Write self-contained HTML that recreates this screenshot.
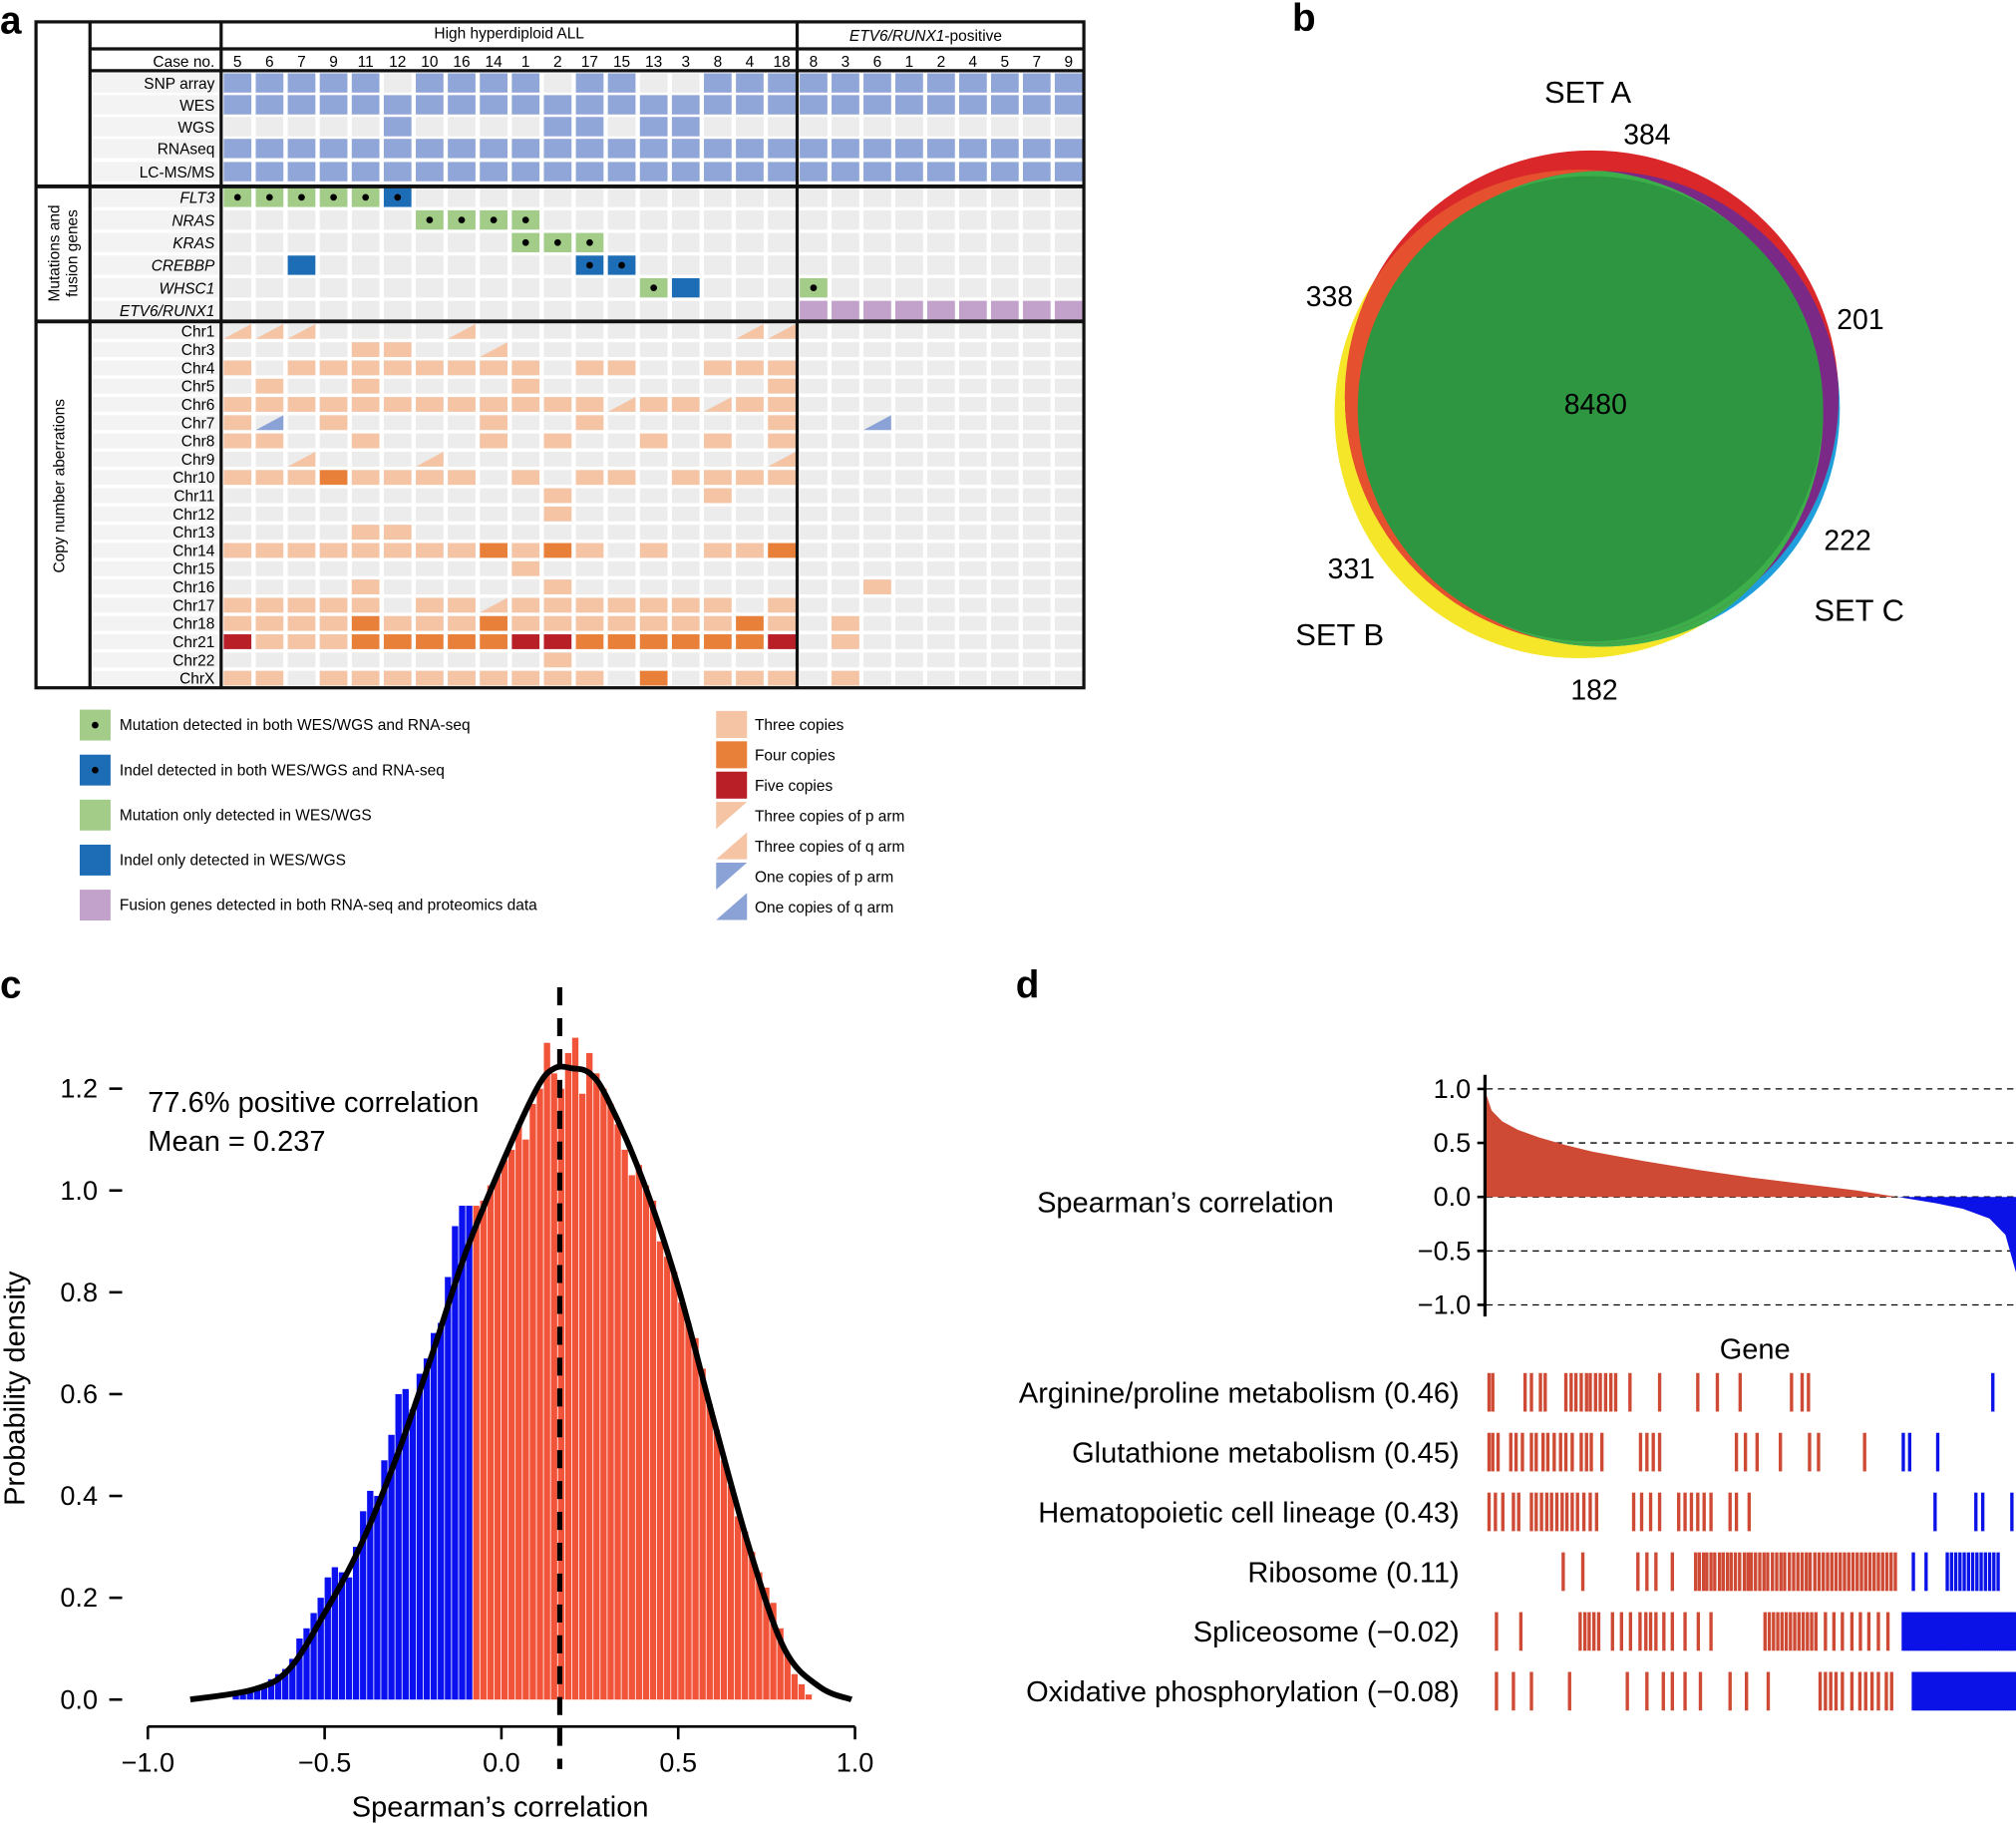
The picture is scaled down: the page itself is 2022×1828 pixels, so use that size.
<!DOCTYPE html>
<html><head><meta charset="utf-8"><style>
html,body{margin:0;padding:0;background:#fff}
svg{display:block;font-family:"Liberation Sans",sans-serif}
</style></head><body>
<svg id="fig" width="2022" height="1828" viewBox="0 0 1568 1418" preserveAspectRatio="none" xmlns="http://www.w3.org/2000/svg">
<g id="pa"></g>
<g id="pb"></g>
<g id="pc"></g>
<g id="pd"></g>
</svg>
<script>
// ---------- Panel A data ----------
const hhCases=[5,6,7,9,11,12,10,16,14,1,2,17,15,13,3,8,4,18];
const etvCases=[8,3,6,1,2,4,5,7,9];
const assayNames=['SNP array','WES','WGS','RNAseq','LC-MS/MS'];
const assayHH=['11111.1111.11..111','111111111111111111','.....1....11.11...','111111111111111111','111111111111111111'];
const assayETV=['111111111','111111111','.........','111111111','111111111'];
const mutGenes=['FLT3','NRAS','KRAS','CREBBP','WHSC1','ETV6/RUNX1'];
const mutHH=['gggggb............','......gggg........','.........ggg......','..B........bb.....','.............gB...','..................'];
const mutETV=['.........','.........','.........','.........','g........','uuuuuuuuu'];
const chrNames=['Chr1','Chr3','Chr4','Chr5','Chr6','Chr7','Chr8','Chr9','Chr10','Chr11','Chr12','Chr13','Chr14','Chr15','Chr16','Chr17','Chr18','Chr21','Chr22','ChrX'];
const cnHH=['ppp....q........pp','....tt..q.........','t.tttttttt.tt..ttt','.t..t....t.......t','ttttttttttttqttqtt','to.t....t..t.....t','tt..t...t.t..t.t.t','..q...q..........q','tttftttt.t.tt.tttt','..........t....t..','..........t.......','....tt............','ttttttttftft.t.ttf','.........t........','....t.....t.......','ttttt.ttqttttttt.t','ttttftttftttttttft','vtttfffffvvffffffv','..........t.......','tt.ttttttttt.f.ttt'];
const cnETV=['.........','.........','.........','.........','.........','..n......','.........','.........','.........','.........','.........','.........','.........','.........','..t......','.........','.t.......','.t.......','.........','.t.......'];

// ---------- Panel B data ----------
const vennLabels=[['SET A',1235,80,24],['SET B',1042,502,24],['SET C',1446,483,24]];
const vennCounts=[['384',1281,112],['338',1034,238],['201',1447,256],['8480',1241,322],['222',1437,428],['331',1051,450],['182',1240,544]];

// ---------- Panel C data ----------
const histStart=-0.76;
const histBinWidth=0.02;
const histValues=[0.01,0.01,0.02,0.02,0.03,0.04,0.05,0.06,0.08,0.12,0.14,0.17,0.2,0.24,0.26,0.25,0.24,0.3,0.37,0.41,0.4,0.47,0.52,0.6,0.61,0.57,0.64,0.67,0.72,0.74,0.83,0.93,0.97,0.97,
0.97,0.98,1.01,1.03,1.06,1.08,1.13,1.1,1.17,1.2,1.29,1.23,1.2,1.27,1.3,1.19,1.27,1.23,1.2,1.17,1.13,1.08,1.03,1.05,1.01,0.98,0.9,0.87,0.84,0.78,0.74,0.71,0.65,0.58,0.53,0.47,0.42,0.36,0.33,0.29,0.25,0.22,0.19,0.14,0.09,0.05,0.03,0.01];
const negThreshold=-0.08;
const curveX=[-0.88,-0.7,-0.6,-0.5,-0.4,-0.3,-0.2,-0.1,0,0.1,0.15,0.2,0.25,0.3,0.4,0.5,0.6,0.7,0.8,0.9,0.99];
const curveY=[0,0.02,0.06,0.17,0.3,0.47,0.67,0.88,1.05,1.2,1.24,1.24,1.23,1.18,1.02,0.81,0.55,0.3,0.1,0.025,0];
const meanLine=0.165;
const cXTicks=[-1,-0.5,0,0.5,1];
const cXTickLabels=['\u22121.0','\u22120.5','0.0','0.5','1.0'];
const cYTicks=[0,0.2,0.4,0.6,0.8,1.0,1.2];
const cYTickLabels=['0.0','0.2','0.4','0.6','0.8','1.0','1.2'];

// ---------- Panel D data ----------
const corrRank=[0,0.01,0.03,0.06,0.1,0.15,0.2,0.3,0.4,0.5,0.6,0.7,0.776,0.85,0.9,0.95,0.98,1.0];
const corrValue=[0.95,0.8,0.7,0.62,0.55,0.48,0.42,0.33,0.25,0.18,0.12,0.06,0,-0.06,-0.11,-0.2,-0.35,-0.7];
const dYTicks=[1,0.5,0,-0.5,-1];
const dYTickLabels=['1.0','0.5','0.0','\u22120.5','\u22121.0'];
const pathwayNames=['Arginine/proline metabolism (0.46)','Glutathione metabolism (0.45)','Hematopoietic cell lineage (0.43)','Ribosome (0.11)','Spliceosome (\u22120.02)','Oxidative phosphorylation (\u22120.08)'];
const pathwayRanks=[
[5,12,73,85,102,111,150,160,169,179,189,196,206,215,225,235,244,271,327,399,436,479,576,596,608,956],
[5,12,22,46,56,68,85,94,107,116,128,140,150,162,179,189,198,218,291,303,315,327,472,489,511,555,610,627,714,787,799,852],
[5,17,31,51,61,85,94,104,114,123,133,143,152,162,172,184,196,208,278,293,310,327,363,375,387,399,411,424,460,472,496,847,924,937,992],
[145,182,286,303,320,351,395,402,410,416,424,431,440,447,455,462,470,478,487,494,500,508,516,524,531,540,548,556,563,572,580,588,596,604,611,620,628,636,644,652,660,668,676,684,692,700,708,716,724,732,740,748,756,764,772,806,830,870,878,886,894,902,910,918,926,934,942,950,958,966],
[19,65,177,186,194,203,212,238,255,272,290,301,310,320,335,351,375,400,424,526,534,542,550,558,566,574,582,590,598,606,614,622,640,656,672,690,706,722,740,758,787,791,795,799,803,807,811,815,819,823,827,831,835,839,843,847,851,855,859,863,867,871,875,879,883,887,891,895,899,903,907,911,915,919,923,927,931,935,939,943,947,951,955,959,963,967,971,975,979,983,987,991,995,999],
[19,51,85,157,266,303,334,351,375,404,460,491,532,630,640,650,660,672,690,705,716,728,740,755,765,806,810,814,818,822,826,830,834,838,842,846,850,854,858,862,866,870,874,878,882,886,890,894,898,902,906,910,914,918,922,926,930,934,938,942,946,950,954,958,962,966,970,974,978,982,986,990,994,998]
];
const signFlipRank=776;

// ---------- helpers ----------
const NS='http://www.w3.org/2000/svg';
function mk(parent,tag,attrs,text){const e=document.createElementNS(NS,tag);for(const k in attrs)e.setAttribute(k,attrs[k]);if(text!==undefined)e.textContent=text;parent.appendChild(e);return e;}
const C={blue:'#90a6d8',green:'#a2cc88',dblue:'#1c6db5',purple:'#c2a2cb',three:'#f4c4a4',four:'#e8803a',five:'#b91f27',bg:'#ececec',lbg:'#f3f3f3',tri1:'#8aa2d6'};

// ---------- Panel A ----------
(function(){
const g=document.getElementById('pa');
let t=mk(g,'text',{x:0,y:26,'font-size':30,'font-weight':'bold'},'a');

const hx=i=>172+i*24.9+2, ex=i=>620+i*24.8+2, cw=21.5;
t=mk(g,'text',{x:396,y:30,'font-size':12,'text-anchor':'middle'},'High hyperdiploid ALL');

t=mk(g,'text',{x:720,y:32,'font-size':12,'text-anchor':'middle'});

mk(t,'tspan',{'font-style':'italic'},'ETV6/RUNX1');mk(t,'tspan',{},'-positive');
t=mk(g,'text',{x:167,y:52,'font-size':12,'text-anchor':'end'},'Case no.');

hhCases.forEach((c,i)=>{const e=mk(g,'text',{x:hx(i)+cw/2,y:52,'font-size':12,'text-anchor':'middle'},String(c));
});
etvCases.forEach((c,i)=>{const e=mk(g,'text',{x:ex(i)+cw/2,y:52,'font-size':12,'text-anchor':'middle'},String(c));
});
function cell(x,y,h,code){
  let el;
  if(code==='.'){el=mk(g,'rect',{x:x,y:y,width:cw,height:h,fill:C.bg});return;}
  mk(g,'rect',{x:x,y:y,width:cw,height:h,fill:C.bg});
  const fills={'1':C.blue,g:C.green,G:C.green,b:C.dblue,B:C.dblue,u:C.purple,t:C.three,f:C.four,v:C.five};
  if(fills[code]){el=mk(g,'rect',{x:x,y:y,width:cw,height:h,fill:fills[code]});}
  else if(code==='p'||code==='q'){el=mk(g,'polygon',{points:`${x},${y+h} ${x+cw},${y} ${x+cw},${y+h}`,fill:C.three});}
  else if(code==='o'||code==='n'){el=mk(g,'polygon',{points:`${x},${y+h} ${x+cw},${y} ${x+cw},${y+h}`,fill:C.tri1});}
  
  if(code==='g'||code==='b'){const d=mk(g,'circle',{cx:x+cw/2,cy:y+h/2,r:2.6,fill:'#000'});}
}
const assayY=[57,74,91,108,126];
assayNames.forEach((n,r)=>{
  mk(g,'rect',{x:72,y:assayY[r],width:98,height:15,fill:C.lbg});
  const e=mk(g,'text',{x:167,y:assayY[r]+12,'font-size':12,'text-anchor':'end'},n);
  
  for(let i=0;i<18;i++)cell(hx(i),assayY[r],15,assayHH[r][i]==='1'?'1':'.');
  for(let i=0;i<9;i++)cell(ex(i),assayY[r],15,assayETV[r][i]==='1'?'1':'.');
});
mutGenes.forEach((n,r)=>{
  const y=146+r*17.6;
  mk(g,'rect',{x:72,y:y,width:98,height:15,fill:C.lbg});
  const e=mk(g,'text',{x:167,y:y+12,'font-size':12,'text-anchor':'end','font-style':'italic'},n);
  
  for(let i=0;i<18;i++)cell(hx(i),y,15,mutHH[r][i]);
  for(let i=0;i<9;i++)cell(ex(i),y,15,mutETV[r][i]);
});
chrNames.forEach((n,r)=>{
  const y=252+r*14.2;
  mk(g,'rect',{x:72,y:y,width:98,height:11.5,fill:C.lbg});
  const e=mk(g,'text',{x:167,y:y+10,'font-size':12,'text-anchor':'end'},n);
  
  for(let i=0;i<18;i++)cell(hx(i),y,11.5,cnHH[r][i]);
  for(let i=0;i<9;i++)cell(ex(i),y,11.5,cnETV[r][i]);
});
const L=(x1,y1,x2,y2,w)=>{const l=mk(g,'line',{x1,y1,x2,y2,stroke:'#111','stroke-width':w});};
mk(g,'rect',{x:28,y:17,width:815,height:518,fill:'none',stroke:'#111','stroke-width':2.5});
L(70,17,70,535,2.5);L(172,17,172,535,2.5);L(620,17,620,535,2.5);
L(70,38,843,38,2.5);L(70,55,843,55,2.5);L(28,145,843,145,3);L(28,250,843,250,3);
let r1=mk(g,'text',{'font-size':12,'text-anchor':'middle',transform:'translate(46,197) rotate(-90)'},'Mutations and');

r1=mk(g,'text',{'font-size':12,'text-anchor':'middle',transform:'translate(60,197) rotate(-90)'},'fusion genes');

r1=mk(g,'text',{'font-size':12,'text-anchor':'middle',transform:'translate(50,378) rotate(-90)'},'Copy number aberrations');

const legL=[['g','Mutation detected in both WES/WGS and RNA-seq'],['b','Indel detected in both WES/WGS and RNA-seq'],['G','Mutation only detected in WES/WGS'],['B','Indel only detected in WES/WGS'],['u','Fusion genes detected in both RNA-seq and proteomics data']];
const fills={g:C.green,G:C.green,b:C.dblue,B:C.dblue,u:C.purple};
legL.forEach((l,i)=>{const y=552+i*35;
  const b=mk(g,'rect',{x:62,y:y,width:24,height:24,fill:fills[l[0]]});
  if(l[0]==='g'||l[0]==='b')mk(g,'circle',{cx:74,cy:y+12,r:2.6,fill:'#000'});
  const e=mk(g,'text',{x:93,y:y+16,'font-size':12},l[1]);});
const legR=[['t','Three copies'],['f','Four copies'],['v','Five copies'],['p','Three copies of p arm'],['q','Three copies of q arm'],['o','One copies of p arm'],['n','One copies of q arm']];
const rf={t:C.three,f:C.four,v:C.five};
legR.forEach((l,i)=>{const y=553+i*23.6;let b;
  if(rf[l[0]])b=mk(g,'rect',{x:557,y:y,width:24,height:21,fill:rf[l[0]]});
  else{const col=(l[0]==='p'||l[0]==='q')?C.three:C.tri1;
    const pts=(l[0]==='p'||l[0]==='o')?`557,${y+21} 581,${y} 557,${y}`:`557,${y+21} 581,${y} 581,${y+21}`;
    b=mk(g,'polygon',{points:pts,fill:col});}
  
  const e=mk(g,'text',{x:587,y:y+15,'font-size':12},l[1]);});
})();

// ---------- Panel B ----------
(function(){
const g=document.getElementById('pb');
let t=mk(g,'text',{x:1005,y:24,'font-size':30,'font-weight':'bold'},'b');

const defs=mk(g,'defs',{});
const cpY=mk(defs,'clipPath',{id:'clipY'});mk(cpY,'circle',{cx:1228,cy:322,r:190});
const cpB=mk(defs,'clipPath',{id:'clipB'});mk(cpB,'circle',{cx:1246,cy:318,r:185});
let c=mk(g,'circle',{cx:1228,cy:322,r:190,fill:'#f5e62a'});
c=mk(g,'circle',{cx:1246,cy:318,r:185,fill:'#1e9fdc'});
mk(g,'circle',{cx:1228,cy:322,r:190,fill:'#3cae4a','clip-path':'url(#clipB)'});
c=mk(g,'circle',{cx:1238,cy:309,r:192,fill:'#d9272a'});
mk(g,'circle',{cx:1238,cy:309,r:192,fill:'#e5502e','clip-path':'url(#clipY)'});
mk(g,'circle',{cx:1238,cy:309,r:192,fill:'#7a2a86','clip-path':'url(#clipB)'});
const gi=mk(g,'g',{'clip-path':'url(#clipB)'});
const gi2=mk(gi,'g',{'clip-path':'url(#clipY)'});
mk(gi2,'circle',{cx:1238,cy:309,r:192,fill:'#3cae4a'});
c=mk(g,'circle',{cx:1237,cy:318,r:181,fill:'#2e9640'});
vennLabels.forEach(v=>{const e=mk(g,'text',{x:v[1],y:v[2],'font-size':v[3],'text-anchor':'middle'},v[0]);});
vennCounts.forEach(v=>{const e=mk(g,'text',{x:v[1],y:v[2],'font-size':22,'text-anchor':'middle'},v[0]);});
})();

// ---------- Panel C ----------
(function(){
const g=document.getElementById('pc');
let t=mk(g,'text',{x:0,y:776,'font-size':30,'font-weight':'bold'},'c');

const X=v=>390+v*275, Y=d=>1322-d*396;
histValues.forEach((v,i)=>{const x0=histStart+i*histBinWidth;const center=x0+histBinWidth/2;
  const r=mk(g,'rect',{x:X(x0),y:Y(v),width:X(x0+histBinWidth)-X(x0)-0.6,height:Y(0)-Y(v),fill:center<negThreshold?'#0a10f0':'#f2543a'});
  });
const P=curveX.map((x,i)=>[X(x),Y(curveY[i])]);
let d=`M${P[0][0]},${P[0][1]}`;
for(let i=0;i<P.length-1;i++){const p0=P[Math.max(0,i-1)],p1=P[i],p2=P[i+1],p3=P[Math.min(P.length-1,i+2)];
  d+=` C${p1[0]+(p2[0]-p0[0])/6},${p1[1]+(p2[1]-p0[1])/6} ${p2[0]-(p3[0]-p1[0])/6},${p2[1]-(p3[1]-p1[1])/6} ${p2[0]},${p2[1]}`;}
let c=mk(g,'path',{d:d,fill:'none',stroke:'#000','stroke-width':4.5});

c=mk(g,'line',{x1:X(meanLine),y1:768,x2:X(meanLine),y2:1376,stroke:'#000','stroke-width':4,'stroke-dasharray':'14,10'});

c=mk(g,'line',{x1:X(-1),y1:1343,x2:X(1),y2:1343,stroke:'#000','stroke-width':2});

cXTicks.forEach((v,i)=>{mk(g,'line',{x1:X(v),y1:1343,x2:X(v),y2:1353,stroke:'#000','stroke-width':2});
  const e=mk(g,'text',{x:X(v),y:1378,'font-size':21,'text-anchor':'middle'},cXTickLabels[i]);});
cYTicks.forEach((v,i)=>{mk(g,'line',{x1:85,y1:Y(v),x2:95,y2:Y(v),stroke:'#000','stroke-width':2});
  const e=mk(g,'text',{x:76,y:Y(v)+7,'font-size':21,'text-anchor':'end'},cYTickLabels[i]);});
t=mk(g,'text',{x:389,y:1413,'font-size':22.5,'text-anchor':'middle'},'Spearman\u2019s correlation');
t=mk(g,'text',{'font-size':22.5,'text-anchor':'middle',transform:'translate(19,1080) rotate(-90)'},'Probability density');
t=mk(g,'text',{x:115,y:865,'font-size':22.5},'77.6% positive correlation');
t=mk(g,'text',{x:115,y:895,'font-size':22.5},'Mean = 0.237');
})();

// ---------- Panel D ----------
(function(){
const g=document.getElementById('pd');
let t=mk(g,'text',{x:790,y:776,'font-size':30,'font-weight':'bold'},'d');

const X=r=>1156+r*412, Y=v=>931-v*84;
dYTicks.forEach((v,i)=>{const l=mk(g,'line',{x1:1156,y1:Y(v),x2:1568,y2:Y(v),stroke:'#000','stroke-width':1,'stroke-dasharray':'5,4'});
  
  mk(g,'line',{x1:1149,y1:Y(v),x2:1155,y2:Y(v),stroke:'#000','stroke-width':2});
  const e=mk(g,'text',{x:1144,y:Y(v)+7,'font-size':21,'text-anchor':'end'},dYTickLabels[i]);});
let rp=`M${X(0)},${Y(0)}`,bp='';
corrRank.forEach((r,i)=>{if(corrValue[i]>=0)rp+=` L${X(r)},${Y(corrValue[i])}`;});
const flip=corrRank[corrValue.indexOf(0)];
rp+=` L${X(flip)},${Y(0)} Z`;
bp=`M${X(flip)},${Y(0)}`;
corrRank.forEach((r,i)=>{if(corrValue[i]<=0)bp+=` L${X(r)},${Y(corrValue[i])}`;});
bp+=` L${X(1)},${Y(0)} Z`;
let a=mk(g,'path',{d:rp,fill:'#cf4a35'});
a=mk(g,'path',{d:bp,fill:'#0a12e8'});
a=mk(g,'line',{x1:1155,y1:836,x2:1155,y2:1024,stroke:'#000','stroke-width':2.5});
t=mk(g,'text',{x:922,y:943,'font-size':22.5,'text-anchor':'middle'},'Spearman\u2019s correlation');
t=mk(g,'text',{x:1365,y:1057,'font-size':22.5,'text-anchor':'middle'},'Gene');
pathwayNames.forEach((n,i)=>{const yc=1083+i*46.5;
  const e=mk(g,'text',{x:1135,y:yc+8,'font-size':22.5,'text-anchor':'end'},n);
  pathwayRanks[i].forEach(r=>{const m=mk(g,'rect',{x:X(r/1000)-1.2,y:yc-15,width:2.6,height:30,fill:r<signFlipRank?'#cf4a35':'#0a12e8'});
    });
});
})();
</script>
</body></html>
